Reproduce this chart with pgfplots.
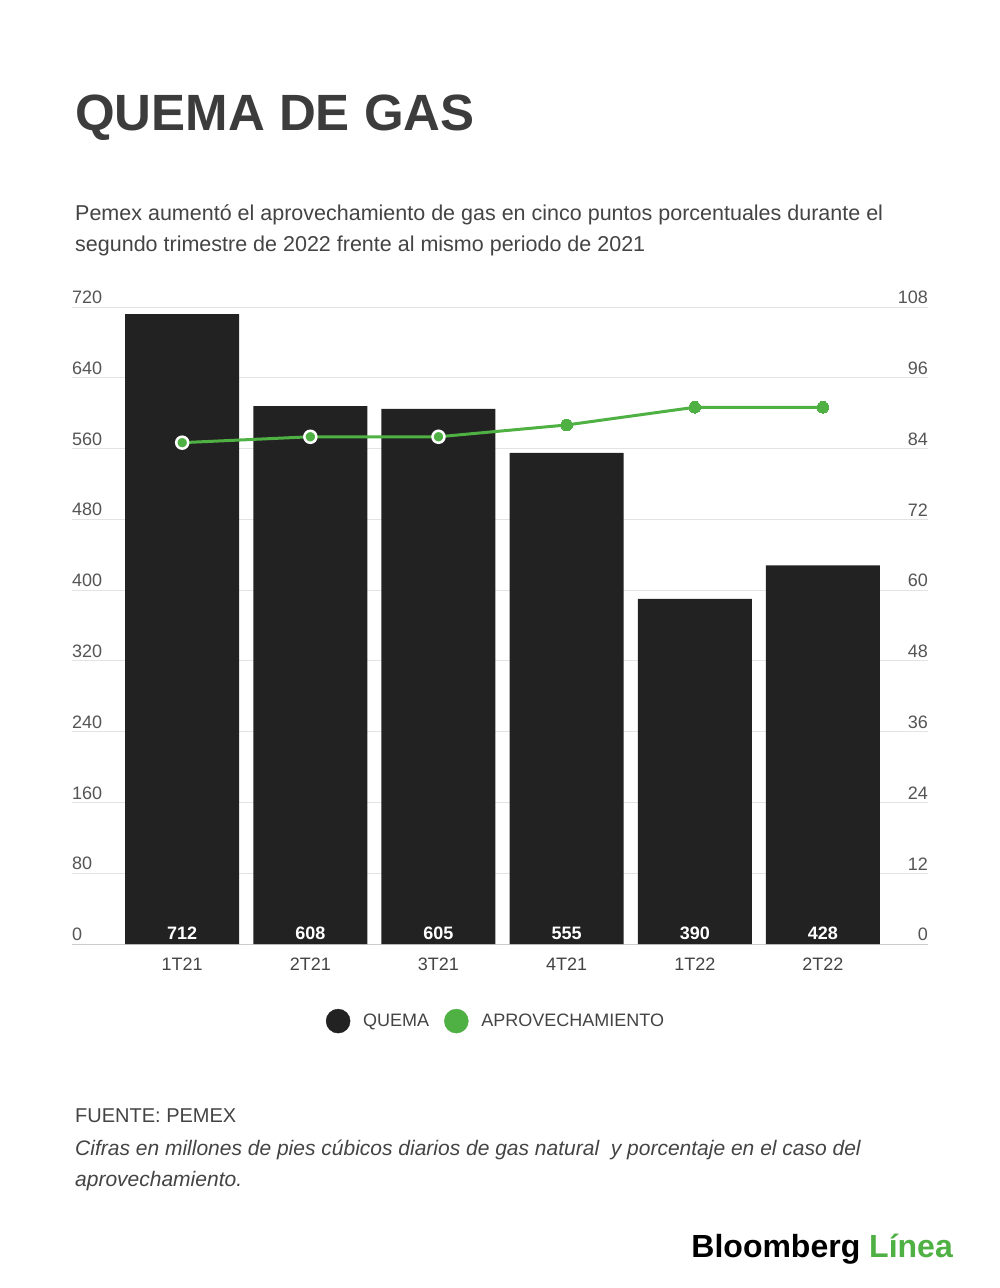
\documentclass[border=0pt]{standalone}
\usepackage{pgfplots}
\pgfplotsset{compat=1.18}
\usepackage{fontspec}
\setmainfont{Liberation Sans}
\definecolor{barc}{HTML}{222222}
\definecolor{greenc}{HTML}{4FB043}
\definecolor{titlec}{HTML}{3C3C3C}
\definecolor{textc}{HTML}{444444}
\definecolor{tickc}{HTML}{555555}
\definecolor{gridc}{HTML}{E3E3E3}
\definecolor{basec}{HTML}{CCCCCC}
\begin{document}
\begin{tikzpicture}[x=1pt,y=1pt]
\fill[white] (0,0) rectangle (1000,-1288);
\node[anchor=base west, inner sep=0, text=titlec, font=\fontsize{51}{60}\selectfont\bfseries] at (75,-130) {QUEMA DE GAS};
\node[anchor=base west, inner sep=0, text=textc, font=\fontsize{21.5}{25}\selectfont] at (75,-220) {Pemex aumentó el aprovechamiento de gas en cinco puntos porcentuales durante el};
\node[anchor=base west, inner sep=0, text=textc, font=\fontsize{21.5}{25}\selectfont] at (75,-251) {segundo trimestre de 2022 frente al mismo periodo de 2021};
\node[anchor=base west, inner sep=0, text=textc, font=\fontsize{20}{23}\selectfont] at (75,-1122) {FUENTE: PEMEX};
\node[anchor=base west, inner sep=0, text=textc, font=\fontsize{21}{24}\selectfont\itshape] at (75,-1155) {Cifras en millones de pies cúbicos diarios de gas natural\ \ y porcentaje en el caso del};
\node[anchor=base west, inner sep=0, text=textc, font=\fontsize{21}{24}\selectfont\itshape] at (75,-1186) {aprovechamiento.};
\node[anchor=base east, inner sep=0, font=\fontsize{32}{36}\selectfont\bfseries] at (953,-1257) {\textcolor{black}{Bloomberg} \textcolor{greenc}{Línea}};
\begin{axis}[
  at={(72pt,-944pt)}, anchor=south west,
  scale only axis, width=856pt, height=637pt,
  xmin=-0.86, xmax=5.82, ymin=0, ymax=720,
  ytick={0,80,...,720},
  xtick={0,...,5},
  xticklabels={1T21,2T21,3T21,4T21,1T22,2T22},
  axis x line*=bottom, axis y line*=left,
  y axis line style={draw=none},
  x axis line style={draw=basec, line width=1pt, -},
  major tick length=0pt,
  tick style={draw=none},
  ymajorgrids, grid style={gridc, line width=1pt},
  /pgf/number format/assume math mode=true,
  yticklabel style={anchor=south west, inner sep=0pt, yshift=3pt, font=\fontsize{18}{20}\selectfont, text=tickc},
  xticklabel style={font=\fontsize{18}{20}\selectfont, text=textc, yshift=-10pt},
  clip=false,
]
\addplot[ybar, bar width=114pt, fill=barc, draw=none] coordinates {(0,712)(1,608)(2,605)(3,555)(4,390)(5,428)};
\addplot[draw=none, mark=none, nodes near coords, point meta=explicit symbolic,
  nodes near coords style={anchor=south, inner sep=4pt, text=white, font=\fontsize{18}{20}\selectfont\bfseries}]
  coordinates {(0,0)[712] (1,0)[608] (2,0)[605] (3,0)[555] (4,0)[390] (5,0)[428]};
\end{axis}
\begin{axis}[
  at={(72pt,-944pt)}, anchor=south west,
  scale only axis, width=856pt, height=637pt,
  xmin=-0.86, xmax=5.82, ymin=0, ymax=108,
  ytick={0,12,...,108},
  axis y line*=right, axis x line=none,
  y axis line style={draw=none},
  major tick length=0pt,
  tick style={draw=none},
  /pgf/number format/assume math mode=true,
  yticklabel style={anchor=south east, inner sep=0pt, yshift=3pt, font=\fontsize{18}{20}\selectfont, text=tickc},
  clip=false,
  legend columns=2,
  legend style={draw=none, fill=none, at={(0.4953,-0.121)}, anchor=center, font=\fontsize{18}{20}\selectfont, text=textc,
    /tikz/every even column/.append style={column sep=13pt}},
  legend image code/.code={\fill[#1] (0,0) circle (12pt); \path[draw=none,fill=none] (12pt,-1pt) rectangle (23pt,1pt);},
]
\addlegendimage{barc}
\addlegendentry{QUEMA}
\addlegendimage{greenc}
\addlegendentry{APROVECHAMIENTO}
\addplot[greenc, line width=3pt, mark=none, forget plot] coordinates {(0,85)(1,86)(2,86)(3,88)(4,91)(5,91)};
\addplot[only marks, mark=*, mark size=6pt, mark options={fill=greenc, draw=white, line width=2.5pt}, forget plot] coordinates {(0,85)(1,86)(2,86)};
\addplot[only marks, mark=*, mark size=5.8pt, mark options={fill=greenc, draw=greenc, line width=0pt}, forget plot] coordinates {(3,88)(4,91)(5,91)};
\end{axis}
\end{tikzpicture}
\end{document}
